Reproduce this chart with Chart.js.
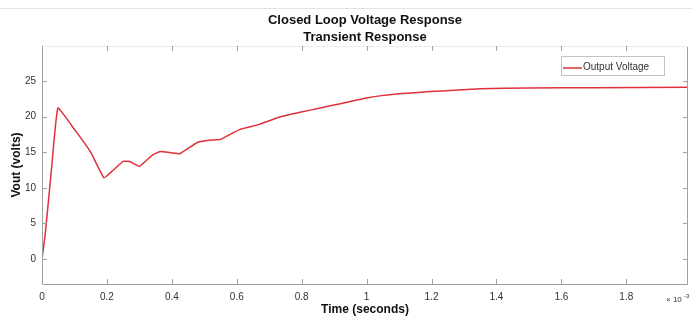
<!DOCTYPE html>
<html><head><meta charset="utf-8">
<script src="https://cdn.jsdelivr.net/npm/chart.js@4/dist/chart.umd.min.js"></script>
<style>html,body{margin:0;padding:0;background:#fff}#wrap{width:692px;height:320px}</style>
</head><body><div id="wrap"><canvas id="c"></canvas></div>
<script>
const titleLines = ['Closed Loop Voltage Response', 'Transient Response'];
const seriesName = 'Output Voltage';
const timeMs = [0, 0.01, 0.03, 0.049, 0.1, 0.15, 0.191, 0.22, 0.25, 0.27, 0.30, 0.34, 0.364, 0.40, 0.425, 0.48, 0.52, 0.55, 0.61, 0.67, 0.73, 0.795, 0.857, 0.919, 1.0, 1.04, 1.1, 1.196, 1.27, 1.35, 1.5, 1.7, 1.99];
const vout   = [0, 3.5, 13, 21.2, 18.2, 15.0, 11.4, 12.5, 13.7, 13.7, 13.0, 14.6, 15.1, 14.9, 14.8, 16.4, 16.7, 16.8, 18.2, 18.9, 19.9, 20.6, 21.2, 21.8, 22.6, 22.9, 23.2, 23.5, 23.7, 23.9, 24.0, 24.05, 24.1];
const xTicks = [0, 0.2, 0.4, 0.6, 0.8, 1, 1.2, 1.4, 1.6, 1.8];
const yTicks = [0, 5, 10, 15, 20, 25];

const points = timeMs.map((t, i) => ({x: t, y: vout[i]}));
const axisColor = '#a0a0a0';
const FONT = '"Liberation Sans", Arial, sans-serif';

const boxPlugin = {
  id: 'boxPlugin',
  afterDraw(chart) {
    const {ctx, chartArea: a, scales} = chart;
    ctx.save();
    ctx.strokeStyle = '#e2e2e2'; ctx.lineWidth = 1;
    ctx.beginPath(); ctx.moveTo(0, 8.5); ctx.lineTo(692, 8.5); ctx.stroke();
    // titles centred over the plot area
    const cx = (a.left + a.right) / 2;
    ctx.fillStyle = '#111';
    ctx.font = 'bold 13px ' + FONT;
    ctx.textAlign = 'center'; ctx.textBaseline = 'middle';
    ctx.fillText(titleLines[0], cx, 20);
    ctx.fillText(titleLines[1], cx, 37);
    // box
    ctx.strokeStyle = axisColor;
    ctx.beginPath();
    ctx.moveTo(a.left + 0.5, a.top); ctx.lineTo(a.left + 0.5, a.bottom + 0.5);
    ctx.lineTo(a.right - 0.5, a.bottom + 0.5); ctx.lineTo(a.right - 0.5, a.top);
    ctx.stroke();
    ctx.strokeStyle = '#ececec';
    ctx.beginPath(); ctx.moveTo(a.left, a.top + 0.5); ctx.lineTo(a.right, a.top + 0.5); ctx.stroke();
    // inward ticks
    ctx.strokeStyle = axisColor;
    ctx.beginPath();
    xTicks.forEach(v => {
      const x = Math.round(scales.x.getPixelForValue(v)) + 0.5;
      ctx.moveTo(x, a.bottom); ctx.lineTo(x, a.bottom - 5);
      ctx.moveTo(x, a.top); ctx.lineTo(x, a.top + 5);
    });
    yTicks.forEach(v => {
      const y = Math.round(scales.y.getPixelForValue(v)) + 0.5;
      ctx.moveTo(a.left, y); ctx.lineTo(a.left + 5, y);
      ctx.moveTo(a.right, y); ctx.lineTo(a.right - 5, y);
    });
    ctx.stroke();
    // legend
    const lx = 561, ly = 56, lw = 103, lh = 19;
    ctx.fillStyle = '#fff';
    ctx.fillRect(lx, ly, lw, lh);
    ctx.strokeStyle = '#c4c4c4';
    ctx.strokeRect(lx + 0.5, ly + 0.5, lw, lh);
    ctx.strokeStyle = '#e0303a'; ctx.lineWidth = 1.5;
    ctx.beginPath(); ctx.moveTo(lx + 2, ly + 12); ctx.lineTo(lx + 21, ly + 12); ctx.stroke();
    ctx.fillStyle = '#333';
    ctx.font = '10px ' + FONT;
    ctx.textBaseline = 'middle'; ctx.textAlign = 'left';
    ctx.fillText(seriesName, lx + 22, ly + 11);
    // exponent
    ctx.font = '8px ' + FONT;
    ctx.fillText('\u00d7 10', 666, 300);
    ctx.font = '6px ' + FONT;
    ctx.fillText('-3', 684, 296);
    ctx.restore();
  }
};

new Chart(document.getElementById('c'), {
  type: 'line',
  data: { datasets: [{
    label: seriesName, data: points,
    borderColor: '#e0303a', borderWidth: 1.5,
    pointRadius: 0, tension: 0.1, fill: false
  }]},
  options: {
    responsive: true, maintainAspectRatio: false, animation: false,
    layout: { padding: { left: 0, right: 4, top: 46, bottom: 0 } },
    plugins: {
      legend: { display: false },
      tooltip: { enabled: false },
      title: { display: false }
    },
    scales: {
      x: {
        type: 'linear', min: 0, max: 1.99,
        border: { display: false },
        grid: { display: false, drawTicks: false },
        afterBuildTicks: s => { s.ticks = xTicks.map(v => ({value: v})); },
        afterFit: s => { s.height = 36; },
        ticks: { padding: 7, color: '#333', maxRotation: 0,
          font: { family: FONT, size: 10 },
          callback: v => String(v) },
        title: { display: true, text: 'Time (seconds)', color: '#111',
          font: { family: FONT, size: 12, weight: 'bold', lineHeight: 1.2 },
          padding: { top: 0, bottom: 3 } }
      },
      y: {
        min: -3.5, max: 29.9,
        border: { display: false },
        grid: { display: false, drawTicks: false },
        afterBuildTicks: s => { s.ticks = yTicks.map(v => ({value: v})); },
        afterFit: s => { s.width = 42; },
        ticks: { padding: 6, color: '#333',
          font: { family: FONT, size: 10 },
          callback: v => String(v) },
        title: { display: true, text: 'Vout (volts)', color: '#111',
          font: { family: FONT, size: 12, weight: 'bold', lineHeight: 1.2 },
          padding: { top: 9, bottom: 0 } }
      }
    }
  },
  plugins: [boxPlugin]
});
</script>
</body></html>
